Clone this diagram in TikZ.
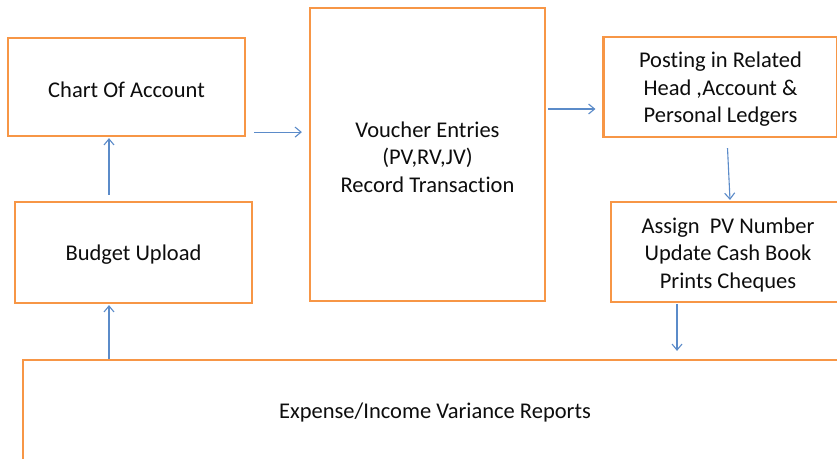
\documentclass[tikz,border=0pt]{standalone}
\usepackage{fontspec}
\setmainfont[Ligatures=NoCommon]{Carlito}
\usetikzlibrary{arrows.meta}
\definecolor{boxorange}{HTML}{F79646}
\definecolor{arrblue}{HTML}{5B8BC9}
\definecolor{txt}{HTML}{0D0D0D}
\tikzset{
  procbox/.style={draw=boxorange, line width=2.2pt, fill=white, inner sep=0pt},
  proctext/.style={align=center, text=txt, font=\fontsize{22.5}{27.5}\selectfont, inner sep=0pt, yshift=-2.5pt},
  arr/.style={draw=arrblue, line width=1.1pt, -{Straight Barb[length=6pt,width=10pt,line width=1.1pt]}}
}
\begin{document}
\begin{tikzpicture}[x=1pt,y=-1pt]
\useasboundingbox (0,0) rectangle (837,458);
\clip (0,0) rectangle (837,458);
\fill[white] (0,0) rectangle (837,458);
\node[procbox, minimum width=237pt, minimum height=98pt, label={[proctext]center:Chart Of Account}] (chart) at (126.5,87) {};
\node[procbox, minimum width=235pt, minimum height=293pt, label={[proctext]center:Voucher Entries\\(PV,RV,JV)\\Record Transaction}] (voucher) at (427.5,154.5) {};
\node[procbox, minimum width=234pt, minimum height=100pt, label={[proctext]center:Posting in Related\\Head ,Account \&\\Personal Ledgers}] (posting) at (720.5,87) {};
\node[procbox, minimum width=234pt, minimum height=100pt, label={[proctext]center:Assign~ PV Number\\Update Cash Book\\Prints Cheques}] (assign) at (728,252) {};
\node[procbox, minimum width=237pt, minimum height=101pt, label={[proctext]center:Budget Upload}] (budget) at (133.5,252.5) {};
\node[procbox, minimum width=824pt, minimum height=100pt, label={[proctext]center:Expense/Income Variance Reports}] (expense) at (435,410) {};

\coordinate (c1s) at ([xshift=8pt,yshift=5pt]chart.south east);
\coordinate (c1e) at ([xshift=-7pt]voucher.west |- c1s);
\draw[arr] (c1s) -- (c1e);
\coordinate (c2e) at ([xshift=-7pt,yshift=-22pt]posting.west);
\coordinate (c2s) at ([xshift=2pt]voucher.east |- c2e);
\draw[arr] (c2s) -- (c2e);
\draw[arr] ([xshift=7pt,yshift=-10pt]posting.south) -- ([xshift=2pt,yshift=1pt]assign.north);
\coordinate (c4s) at ([xshift=-51pt,yshift=-1pt]assign.south);
\coordinate (c4t) at ([yshift=8pt]expense.north);
\draw[arr] (c4s) -- (c4s |- c4t);
\coordinate (c5e) at ([xshift=-24.5pt,yshift=-1pt]budget.south);
\draw[arr] (c5e |- expense.north) -- (c5e);
\coordinate (c6e) at ([xshift=-17.5pt,yshift=-1pt]chart.south);
\coordinate (c6t) at ([yshift=6pt]budget.north);
\draw[arr] (c6e |- c6t) -- (c6e);
\end{tikzpicture}
\end{document}
